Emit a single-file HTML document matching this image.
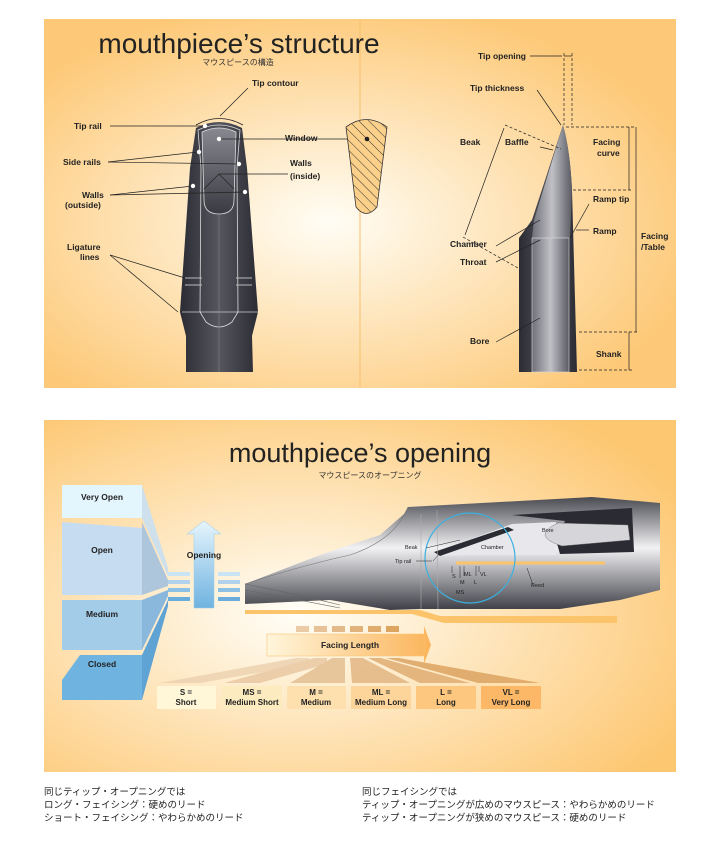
<!DOCTYPE html>
<html><head><meta charset="utf-8"><style>
body{margin:0;background:#fff;width:714px;height:847px;overflow:hidden;font-family:"Liberation Sans","Noto Sans CJK JP",sans-serif}
svg text{font-family:"Liberation Sans","Noto Sans CJK JP",sans-serif}
.jp{position:absolute;font-size:9.5px;line-height:13px;color:#222;font-family:"Liberation Sans","Noto Sans CJK JP",sans-serif}
</style></head><body>
<svg width="714" height="847" viewBox="0 0 714 847" style="position:absolute;left:0;top:0">
<defs>
<radialGradient id="g1" cx="0.45" cy="0.55" r="0.6"><stop offset="0" stop-color="#fffdf5"/><stop offset="1" stop-color="#fdc978"/></radialGradient>
<radialGradient id="g3" cx="0.4" cy="0.55" r="0.7"><stop offset="0" stop-color="#fffef8"/><stop offset="1" stop-color="#fdc772"/></radialGradient>
<linearGradient id="mp" x1="0" x2="1"><stop offset="0" stop-color="#2b2c33"/><stop offset="0.5" stop-color="#55565e"/><stop offset="1" stop-color="#2b2c33"/></linearGradient>
<linearGradient id="win" x1="0" y1="0" x2="0" y2="1"><stop offset="0" stop-color="#888990"/><stop offset="1" stop-color="#3a3b42"/></linearGradient>
<linearGradient id="bore" x1="0" x2="1"><stop offset="0" stop-color="#6f7078"/><stop offset="0.5" stop-color="#c0c0c6"/><stop offset="1" stop-color="#5a5b63"/></linearGradient>
<linearGradient id="side" x1="0" y1="0" x2="0" y2="1"><stop offset="0" stop-color="#4a4b52"/><stop offset="0.45" stop-color="#f2f2f4"/><stop offset="1" stop-color="#3e3f46"/></linearGradient>
<linearGradient id="fl" x1="0" x2="1"><stop offset="0" stop-color="#fff6dc"/><stop offset="1" stop-color="#fbb45a"/></linearGradient>
<linearGradient id="op" x1="0" y1="0" x2="0" y2="1"><stop offset="0" stop-color="#e6f5fd"/><stop offset="1" stop-color="#6fb3e0"/></linearGradient>
<pattern id="hatch" width="7" height="7" patternUnits="userSpaceOnUse" patternTransform="rotate(-45)"><rect width="7" height="7" fill="#fbd08a"/><line x1="0" y1="0" x2="0" y2="7" stroke="#333" stroke-width="1"/></pattern>
</defs>
<!-- top panel -->
<rect x="44" y="19" width="632" height="369" fill="url(#g1)"/>
<line x1="360" y1="19" x2="360" y2="388" stroke="#f6c06e" stroke-width="1"/>
<text x="239" y="53" font-size="28" text-anchor="middle" fill="#222">mouthpiece’s structure</text>
<text x="238" y="65" font-size="8" text-anchor="middle" fill="#333">マウスピースの構造</text>
<!-- front mouthpiece -->
<path d="M196,128 Q219,116 242,128 L247,168 L258,312 L252,336 L253,372 L186,372 L186,336 L180,312 L190,168 Z" fill="url(#mp)"/>
<path d="M198,130 Q219,120 240,130 L237,168 L238,312 L232,322 Q219,332 206,322 L200,312 L201,168 Z" fill="none" stroke="#ddd" stroke-width="0.8"/>
<path d="M202,132 Q219,124 236,132 L234,200 Q234,214 219,214 Q204,214 204,200 Z" fill="url(#win)" stroke="#ddd" stroke-width="0.8"/>
<line x1="182" y1="312" x2="258" y2="312" stroke="#ccc" stroke-width="0.8"/>
<line x1="185" y1="278" x2="202" y2="278" stroke="#bbb"/><line x1="236" y1="278" x2="252" y2="278" stroke="#bbb"/>
<line x1="185" y1="285" x2="202" y2="285" stroke="#bbb"/><line x1="236" y1="285" x2="252" y2="285" stroke="#bbb"/>
<line x1="219" y1="215" x2="219" y2="372" stroke="#888" stroke-width="0.5"/>
<path d="M196,125 Q219,112 243,125" fill="none" stroke="#222" stroke-width="0.8"/>
<line x1="220" y1="116" x2="248" y2="88" stroke="#222" stroke-width="0.7"/>
<text x="252" y="86" font-size="8.5" font-weight="bold" fill="#222">Tip contour</text>
<g font-size="8.5" font-weight="bold" fill="#222">
<text x="74" y="129">Tip rail</text><text x="63" y="165">Side rails</text>
<text x="82" y="198">Walls</text><text x="65" y="208">(outside)</text>
<text x="67" y="250">Ligature</text><text x="80" y="260">lines</text>
<text x="285" y="141">Window</text>
<text x="290" y="166">Walls</text><text x="290" y="179">(inside)</text>
</g>
<g stroke="#222" stroke-width="0.7" fill="none">
<line x1="110" y1="126" x2="204" y2="126"/>
<line x1="108" y1="162" x2="198" y2="152"/><line x1="108" y1="162" x2="239" y2="164"/>
<line x1="110" y1="195" x2="193" y2="186"/><line x1="110" y1="195" x2="245" y2="192"/>
<line x1="110" y1="255" x2="185" y2="278"/><line x1="110" y1="255" x2="178" y2="312"/>
<line x1="218" y1="139" x2="367" y2="139"/>
<line x1="219" y1="174" x2="288" y2="174"/>
<line x1="219" y1="174" x2="204" y2="189"/><line x1="219" y1="174" x2="234" y2="189"/>
</g>
<g fill="#fff"><circle cx="205" cy="126" r="2.2"/><circle cx="219" cy="139" r="2.2"/><circle cx="199" cy="152" r="2.2"/><circle cx="239" cy="164" r="2.2"/><circle cx="193" cy="186" r="2.2"/><circle cx="245" cy="192" r="2.2"/></g>
<path d="M346,127 Q366,112 387,127 L377,207 Q366,220 356,207 Z" fill="url(#hatch)" stroke="#333" stroke-width="0.8"/>
<circle cx="367" cy="139" r="2.3" fill="#222"/>
<!-- side view -->
<path d="M563,125 Q570,150 572,190 L577,372 L519,372 L519,238 L532,220 Z" fill="url(#mp)"/>
<path d="M563,125 Q570,150 572,190 L570,238 L532,238 L534,220 Z" fill="url(#bore)"/>
<rect x="532" y="238" width="37" height="134" fill="url(#bore)" stroke="#ddd" stroke-width="0.6"/>
<g stroke="#222" stroke-width="0.7" fill="none">
<line x1="537" y1="90" x2="561" y2="125"/>
<path d="M505,125 L561,149 M463,237 L518,268" stroke-dasharray="3,2"/>
<line x1="465" y1="235" x2="504" y2="128"/>
<line x1="540" y1="147" x2="553" y2="150"/>
</g>
<g font-size="8.5" font-weight="bold" fill="#222">
<text x="478" y="59">Tip opening</text>
<text x="470" y="91">Tip thickness</text>
<text x="460" y="145">Beak</text><text x="505" y="145">Baffle</text>
<text x="593" y="145">Facing</text><text x="597" y="156">curve</text>
<text x="593" y="202">Ramp tip</text><text x="593" y="234">Ramp</text>
<text x="641" y="239">Facing</text><text x="641" y="250">/Table</text>
<text x="450" y="247">Chamber</text><text x="460" y="265">Throat</text>
<text x="470" y="344">Bore</text><text x="596" y="357">Shank</text>
</g>
<g stroke="#222" stroke-width="0.7" fill="none">
<line x1="530" y1="56" x2="562" y2="56"/>
<line x1="564" y1="56" x2="572" y2="56"/>
<line x1="564" y1="53" x2="564" y2="125" stroke-dasharray="3,2"/>
<line x1="572" y1="53" x2="572" y2="125" stroke-dasharray="3,2"/>
<line x1="566" y1="127" x2="636" y2="127" stroke-dasharray="3,2"/>
<line x1="573" y1="190" x2="632" y2="190" stroke-dasharray="3,2"/>
<line x1="629" y1="127" x2="629" y2="190"/>
<line x1="636" y1="127" x2="636" y2="332"/>
<line x1="579" y1="332" x2="638" y2="332" stroke-dasharray="3,2"/>
<line x1="579" y1="370" x2="632" y2="370" stroke-dasharray="3,2"/>
<line x1="629" y1="332" x2="629" y2="370"/>
<line x1="589" y1="204" x2="570" y2="238"/>
<line x1="589" y1="230" x2="576" y2="230"/>
<line x1="496" y1="246" x2="540" y2="220"/>
<line x1="496" y1="262" x2="540" y2="240"/>
<line x1="496" y1="342" x2="540" y2="318"/>
</g>
<!-- bottom panel -->
<rect x="44" y="420" width="632" height="352" fill="url(#g3)"/>
<text x="360" y="462" font-size="27" text-anchor="middle" fill="#222">mouthpiece’s opening</text>
<text x="370" y="478" font-size="8" text-anchor="middle" fill="#333">マウスピースのオープニング</text>
<polygon points="142,485 168,568 168,576 142,518" fill="#cde0ec"/>
<polygon points="142,522 168,580 168,586 142,595" fill="#adc6dc"/>
<polygon points="142,600 168,590 168,596 142,650" fill="#8ab8dc"/>
<polygon points="142,655 168,600 168,606 142,700" fill="#5ea3d4"/>
<rect x="62" y="485" width="80" height="33" fill="#e3f6fe"/>
<polygon points="62,522 142,528 142,595 62,595" fill="#c6dcf0"/>
<polygon points="62,600 142,600 142,650 62,650" fill="#a3cce9"/>
<polygon points="62,700 62,680 80,655 142,655 142,700" fill="#6fb4e1"/>
<g font-size="8.5" font-weight="bold" fill="#222" text-anchor="middle">
<text x="102" y="500">Very Open</text><text x="102" y="553">Open</text><text x="102" y="617">Medium</text><text x="102" y="667">Closed</text>
</g>
<rect x="168" y="572" width="22" height="4" fill="#c9e4f4"/><rect x="168" y="580" width="22" height="4" fill="#b0d2ec"/>
<rect x="168" y="588" width="22" height="4" fill="#8cc0e4"/><rect x="168" y="597" width="22" height="4" fill="#6aacdc"/>
<rect x="218" y="572" width="22" height="4" fill="#c9e4f4"/><rect x="218" y="580" width="22" height="4" fill="#b0d2ec"/>
<rect x="218" y="588" width="22" height="4" fill="#8cc0e4"/><rect x="218" y="597" width="22" height="4" fill="#6aacdc"/>
<polygon points="194,608 194,534 187,534 204,521 221,534 214,534 214,608" fill="url(#op)" stroke="#9ccbe9" stroke-width="0.5"/>
<text x="204" y="558" font-size="8.5" font-weight="bold" fill="#222" text-anchor="middle">Opening</text>
<!-- side mouthpiece -->
<polygon points="245,604 245,584 320,555 380,535 404,514 408,507 592,497 660,503 660,590 620,600 560,609 420,609 390,610 330,600" fill="url(#side)"/>
<path d="M245,584 Q300,566 350,555 Q395,540 408,507" fill="none" stroke="#777" stroke-width="0.6"/>
<path d="M245,584 Q300,595 340,605" fill="none" stroke="#666" stroke-width="0.6"/>
<path d="M245,590 Q300,600 340,608" fill="none" stroke="#666" stroke-width="0.6"/>
<polygon points="512,515 632,508 634,552 560,554 556,540 565,521" fill="#2a2b33"/>
<polygon points="435,552 512,524 556,522 556,555 470,555 438,556" fill="#e8e8ec"/>
<polygon points="434,552 508,527 514,530 440,556" fill="#2a2b33"/>
<path d="M558,523 Q530,536 562,546 L630,540 L628,525 Z" fill="#d5d5da" stroke="#666" stroke-width="0.4"/>
<line x1="456" y1="563" x2="605" y2="563" stroke="#fcc46a" stroke-width="3"/>
<line x1="421" y1="514" x2="421" y2="609" stroke="#aaa" stroke-width="0.6"/>
<line x1="437" y1="510" x2="438" y2="609" stroke="#aaa" stroke-width="0.6"/>
<path d="M245,610 L420,610 L440,616 L617,616 L617,623 L444,623 L412,614 L245,614 Z" fill="#fcc46a"/>
<circle cx="470" cy="558" r="45" fill="none" stroke="#3bb0df" stroke-width="1.2"/>
<g font-size="5.5" fill="#222">
<text x="405" y="549">Beak</text><text x="395" y="563">Tip rail</text><text x="481" y="549">Chamber</text><text x="542" y="532">Bore</text><text x="531" y="587">Reed</text>
<text x="452" y="578">S</text><text x="464" y="576">ML</text><text x="480" y="576">VL</text><text x="460" y="584">M</text><text x="474" y="584">L</text><text x="456" y="594">MS</text>
</g>
<g stroke="#222" stroke-width="0.5"><line x1="426" y1="548" x2="460" y2="540"/><line x1="416" y1="561" x2="432" y2="561"/><line x1="433" y1="561" x2="440" y2="553"/><line x1="533" y1="585" x2="527" y2="568"/>
<line x1="452" y1="566" x2="452" y2="573"/><line x1="460" y1="566" x2="460" y2="578"/><line x1="464" y1="566" x2="464" y2="576"/><line x1="476" y1="566" x2="476" y2="576"/><line x1="479" y1="566" x2="479" y2="572"/></g>
<!-- facing length -->
<g opacity="0.85">
<rect x="296" y="626" width="13" height="6" fill="#e7c39a"/><rect x="314" y="626" width="13" height="6" fill="#e3b98a"/><rect x="332" y="626" width="13" height="6" fill="#e0b07a"/><rect x="350" y="626" width="13" height="6" fill="#dca86a"/><rect x="368" y="626" width="13" height="6" fill="#dba05a"/><rect x="386" y="626" width="13" height="6" fill="#d8984a"/>
<polygon points="296,658 309,658 309,664 200,683 160,683" fill="#edd2b0"/>
<polygon points="314,658 327,658 327,664 260,683 224,683" fill="#e9c8a2"/>
<polygon points="332,658 345,658 345,683 290,683" fill="#e5bf92"/>
<polygon points="350,658 363,658 410,683 352,683" fill="#e2b683"/>
<polygon points="368,658 381,658 470,683 420,683" fill="#e0ad72"/>
<polygon points="386,658 399,658 540,683 478,683" fill="#dda462"/>
</g>
<polygon points="267,634 424,634 424,626 431,645 424,664 424,656 267,656" fill="url(#fl)"/>
<rect x="267" y="634" width="157" height="22" fill="none" stroke="#fbc574" stroke-width="0.6"/>
<text x="350" y="648" font-size="8.5" font-weight="bold" fill="#222" text-anchor="middle">Facing Length</text>
<rect x="157" y="686" width="59" height="23" fill="#fff7d8"/><rect x="222" y="686" width="60" height="23" fill="#fdebc0"/><rect x="287" y="686" width="59" height="23" fill="#fde0ad"/><rect x="351" y="686" width="60" height="23" fill="#fdd59a"/><rect x="416" y="686" width="60" height="23" fill="#fdc77f"/><rect x="481" y="686" width="60" height="23" fill="#fcb866"/>
<g font-size="8" font-weight="bold" fill="#222" text-anchor="middle">
<text x="186" y="695">S =</text><text x="186" y="705">Short</text>
<text x="252" y="695">MS =</text><text x="252" y="705">Medium Short</text>
<text x="316" y="695">M =</text><text x="316" y="705">Medium</text>
<text x="381" y="695">ML =</text><text x="381" y="705">Medium Long</text>
<text x="446" y="695">L =</text><text x="446" y="705">Long</text>
<text x="511" y="695">VL =</text><text x="511" y="705">Very Long</text>
</g>
</svg>
<div class="jp" style="left:44px;top:786px">同じティップ・オープニングでは<br>ロング・フェイシング：硬めのリード<br>ショート・フェイシング：やわらかめのリード</div>
<div class="jp" style="left:362px;top:786px">同じフェイシングでは<br>ティップ・オープニングが広めのマウスピース：やわらかめのリード<br>ティップ・オープニングが狭めのマウスピース：硬めのリード</div>
</body></html>
